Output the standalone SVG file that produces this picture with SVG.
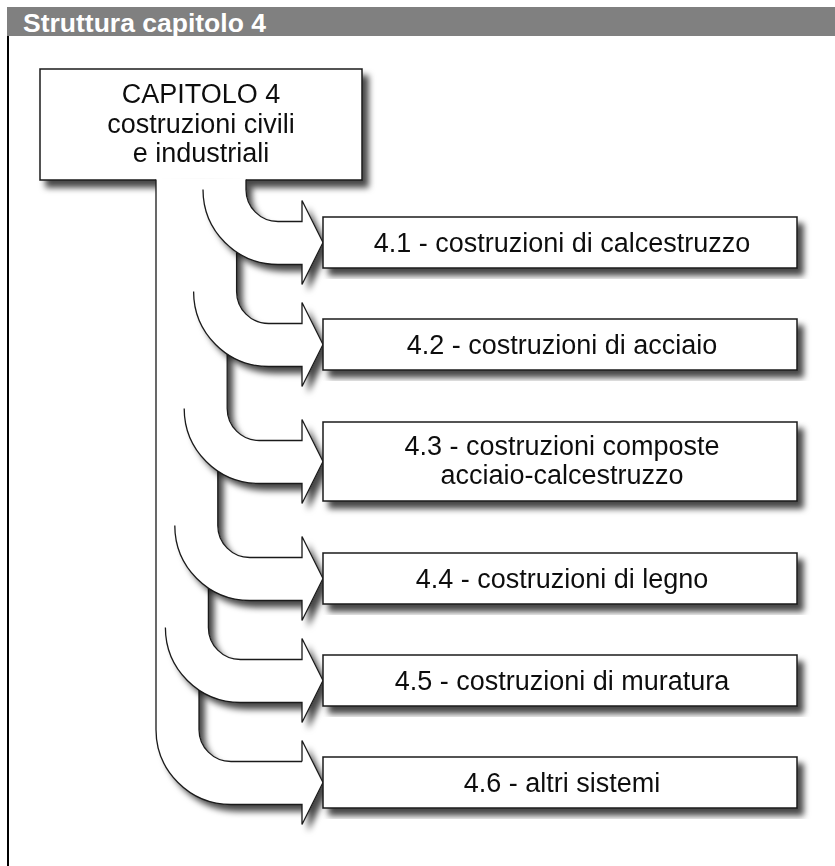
<svg xmlns="http://www.w3.org/2000/svg" width="835" height="866" viewBox="0 0 835 866">
<defs>
<style>
.hd{fill:#808080}
.ht{font-family:"Liberation Sans",Arial,Helvetica,sans-serif;font-weight:bold;font-size:26.5px;fill:#fff}
.box{fill:#fff;stroke:#1a1a1a;stroke-width:1.5}
.t{font-family:"Liberation Sans",Arial,Helvetica,sans-serif;font-size:27px;fill:#111;text-anchor:middle}
.af{fill:#fff;stroke:none}
.cv{fill:#fff;stroke:none}
.as{fill:none;stroke:#1a1a1a;stroke-width:1.3;stroke-linejoin:miter}
</style>
<filter id="sh" x="-10%" y="-10%" width="130%" height="130%">
<feDropShadow dx="6" dy="7" stdDeviation="3.2" flood-color="#000" flood-opacity="0.72"/>
</filter>
</defs>
<rect width="835" height="866" fill="#fff"/>
<g id="header">
<rect class="hd" x="7" y="7" width="828" height="29"/>
<text class="ht" x="23" y="31.5">Struttura capitolo 4</text>
<line x1="8" y1="36" x2="8" y2="866" stroke="#000" stroke-width="2"/>
</g>
<g id="capitolo4" filter="url(#sh)">
<rect class="box" x="40" y="69" width="322" height="111"/>
<text class="t" x="201" y="103">CAPITOLO 4</text>
<text class="t" x="201" y="132.5">costruzioni civili</text>
<text class="t" x="201" y="161.5">e industriali</text>
</g>
<g id="connectors">
<g id="arrow6">
<path class="af" filter="url(#sh)" d="M156,179 L199,179 L199,729.5 A32,32 0 0 0 231,761.5 L302,761.5 L302,740.5 L323,782.5 L302,824.5 L302,804.5 L231,804.5 A75,75 0 0 1 156,729.5 Z"/>
<path class="as" d="M302,761.5 L302,740.5 L323,782.5 L302,824.5 L302,804.5 L231,804.5 A75,75 0 0 1 156,729.5 L156,179.5 M199,600 L199,729.5 A32,32 0 0 0 231,761.5 L302,761.5"/>
</g>
<g id="arrow5">
<path class="af" filter="url(#sh)" d="M165.4,179 L208.4,179 L208.4,627.5 A32,32 0 0 0 240.4,659.5 L302,659.5 L302,638.5 L323,680.5 L302,722.5 L302,702.5 L240.4,702.5 A75,75 0 0 1 165.4,627.5 Z"/>
<rect class="cv" x="157.4" y="179" width="8.5" height="448.5"/>
<path class="as" d="M208.4,500 L208.4,627.5 A32,32 0 0 0 240.4,659.5 L302,659.5 L302,638.5 L323,680.5 L302,722.5 L302,702.5 L240.4,702.5 A75,75 0 0 1 165.4,627.5"/>
</g>
<g id="arrow4">
<path class="af" filter="url(#sh)" d="M174.8,179 L217.8,179 L217.8,525.5 A32,32 0 0 0 249.8,557.5 L302,557.5 L302,536.5 L323,578.5 L302,620.5 L302,600.5 L249.8,600.5 A75,75 0 0 1 174.8,525.5 Z"/>
<rect class="cv" x="166.8" y="179" width="8.5" height="346.5"/>
<path class="as" d="M217.8,400 L217.8,525.5 A32,32 0 0 0 249.8,557.5 L302,557.5 L302,536.5 L323,578.5 L302,620.5 L302,600.5 L249.8,600.5 A75,75 0 0 1 174.8,525.5"/>
</g>
<g id="arrow3">
<path class="af" filter="url(#sh)" d="M184.2,179 L227.2,179 L227.2,408.5 A32,32 0 0 0 259.2,440.5 L302,440.5 L302,419.5 L323,461.5 L302,503.5 L302,483.5 L259.2,483.5 A75,75 0 0 1 184.2,408.5 Z"/>
<rect class="cv" x="176.2" y="179" width="8.5" height="229.5"/>
<path class="as" d="M227.2,300 L227.2,408.5 A32,32 0 0 0 259.2,440.5 L302,440.5 L302,419.5 L323,461.5 L302,503.5 L302,483.5 L259.2,483.5 A75,75 0 0 1 184.2,408.5"/>
</g>
<g id="arrow2">
<path class="af" filter="url(#sh)" d="M193.6,179 L236.6,179 L236.6,291.5 A32,32 0 0 0 268.6,323.5 L302,323.5 L302,302.5 L323,344.5 L302,386.5 L302,366.5 L268.6,366.5 A75,75 0 0 1 193.6,291.5 Z"/>
<rect class="cv" x="185.6" y="179" width="8.5" height="112.5"/>
<path class="as" d="M236.6,200 L236.6,291.5 A32,32 0 0 0 268.6,323.5 L302,323.5 L302,302.5 L323,344.5 L302,386.5 L302,366.5 L268.6,366.5 A75,75 0 0 1 193.6,291.5"/>
</g>
<g id="arrow1">
<path class="af" filter="url(#sh)" d="M203,179 L246,179 L246,189.5 A32,32 0 0 0 278,221.5 L302,221.5 L302,200.5 L323,242.5 L302,284.5 L302,264.5 L278,264.5 A75,75 0 0 1 203,189.5 Z"/>
<rect class="cv" x="195" y="179" width="8.5" height="10.5"/>
<path class="as" d="M246,179.5 L246,189.5 A32,32 0 0 0 278,221.5 L302,221.5 L302,200.5 L323,242.5 L302,284.5 L302,264.5 L278,264.5 A75,75 0 0 1 203,189.5"/>
</g>
</g>
<g id="n41" filter="url(#sh)">
<rect class="box" x="323" y="217" width="474" height="51"/>
<text class="t" x="562" y="251.5">4.1 - costruzioni di calcestruzzo</text>
</g>
<g id="n42" filter="url(#sh)">
<rect class="box" x="323" y="319" width="474" height="51"/>
<text class="t" x="562" y="353.5">4.2 - costruzioni di acciaio</text>
</g>
<g id="n43" filter="url(#sh)">
<rect class="box" x="323" y="422" width="474" height="79"/>
<text class="t" x="562" y="455">4.3 - costruzioni composte</text>
<text class="t" x="562" y="484">acciaio-calcestruzzo</text>
</g>
<g id="n44" filter="url(#sh)">
<rect class="box" x="323" y="553" width="474" height="51"/>
<text class="t" x="562" y="587.5">4.4 - costruzioni di legno</text>
</g>
<g id="n45" filter="url(#sh)">
<rect class="box" x="323" y="655" width="474" height="51"/>
<text class="t" x="562" y="689.5">4.5 - costruzioni di muratura</text>
</g>
<g id="n46" filter="url(#sh)">
<rect class="box" x="323" y="757" width="474" height="51"/>
<text class="t" x="562" y="791.5">4.6 - altri sistemi</text>
</g>
</svg>
